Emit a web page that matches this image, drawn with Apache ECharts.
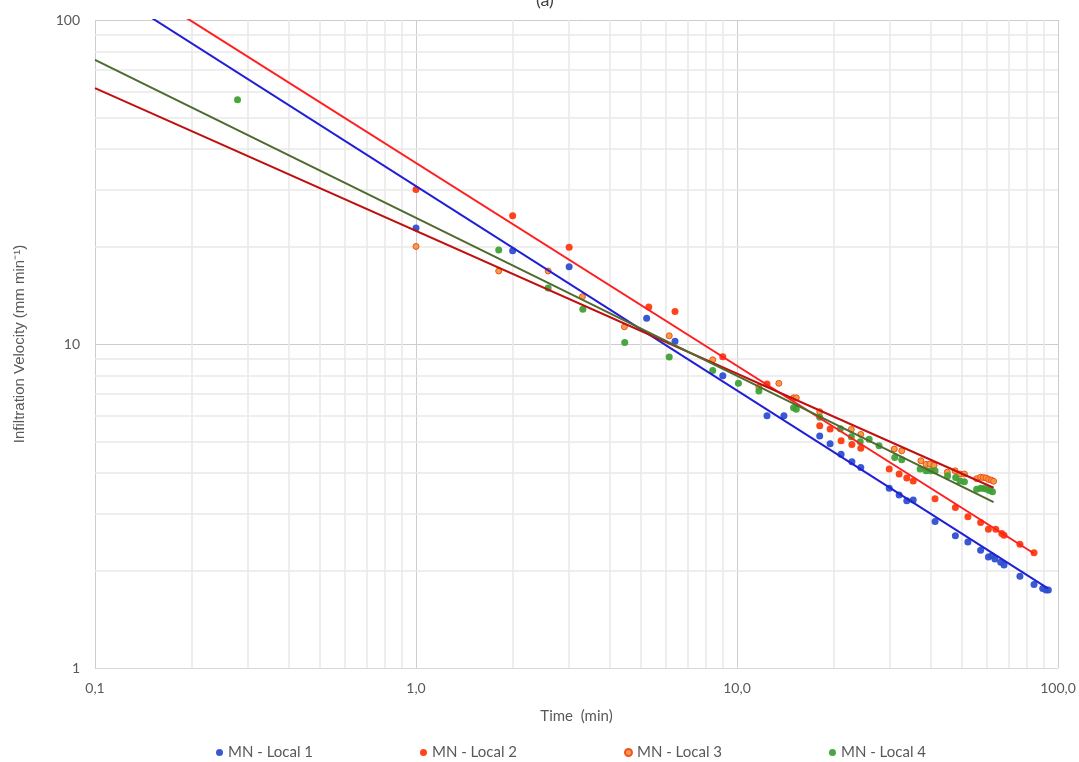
<!DOCTYPE html>
<html>
<head>
<meta charset="utf-8">
<script src="https://cdn.jsdelivr.net/npm/echarts@6/dist/echarts.min.js"></script>
<style>
  html, body { margin: 0; padding: 0; background: #fff; }
  #chart { width: 1079px; height: 762px; }
</style>
</head>
<body>
<div id="chart"></div>
<script>
// observed points [time (min), velocity (mm/min)]
const local1 = [
  [1.0, 22.8], [2.0, 19.4], [3.0, 17.3], [5.23, 12.0], [6.41, 10.2], [9.03, 7.98],
  [12.4, 6.01], [14.0, 6.01], [18.1, 5.2], [19.5, 4.92], [21.1, 4.57], [22.8, 4.33],
  [24.3, 4.16], [29.8, 3.59], [32.0, 3.42], [33.8, 3.28], [35.4, 3.30], [41.4, 2.83],
  [47.9, 2.56], [52.4, 2.45], [57.4, 2.31], [60.7, 2.20], [62.1, 2.22], [63.6, 2.17],
  [66.3, 2.12], [67.9, 2.08], [76.1, 1.92], [84.2, 1.81], [89.6, 1.76], [91.8, 1.74],
  [93.3, 1.74]
];
const local2 = [
  [1.0, 30.0], [2.0, 24.9], [3.0, 19.9], [5.31, 13.0], [6.41, 12.6], [9.03, 9.14],
  [12.4, 7.52], [18.1, 5.59], [19.5, 5.47], [21.1, 5.03], [22.8, 4.90], [24.3, 4.77],
  [29.8, 4.11], [32.0, 3.97], [33.8, 3.86], [35.4, 3.78], [41.4, 3.33], [47.9, 3.13],
  [52.4, 2.93], [57.4, 2.81], [60.7, 2.68], [64.0, 2.68], [66.8, 2.60], [67.9, 2.57],
  [76.1, 2.41], [84.2, 2.27]
];
const local3 = [
  [1.0, 20.0], [1.81, 16.8], [2.58, 16.8], [3.30, 14.0], [4.46, 11.3], [6.15, 10.6],
  [8.40, 8.94], [11.7, 7.35], [13.5, 7.56], [15.0, 6.82], [15.3, 6.82], [18.1, 6.18],
  [22.7, 5.45], [24.3, 5.26], [30.9, 4.74], [32.6, 4.68], [37.4, 4.36], [38.8, 4.25],
  [39.9, 4.26], [41.1, 4.22], [45.2, 4.02], [47.8, 4.06], [49.5, 3.97], [51.1, 3.97],
  [55.8, 3.84], [57.4, 3.88], [58.5, 3.87], [59.7, 3.86], [60.8, 3.82], [62.0, 3.80],
  [63.0, 3.77]
];
const local4 = [
  [0.278, 56.7], [1.81, 19.5], [2.58, 14.9], [3.31, 12.8], [4.47, 10.1], [6.15, 9.12],
  [8.40, 8.29], [10.1, 7.56], [11.7, 7.16], [15.0, 6.36], [15.3, 6.29], [18.1, 5.94],
  [21.0, 5.48], [22.7, 5.17], [24.2, 4.99], [25.8, 5.08], [27.7, 4.85], [31.0, 4.46],
  [32.6, 4.39], [37.2, 4.11], [38.8, 4.06], [40.1, 4.06], [41.4, 4.06], [45.3, 3.92],
  [48.0, 3.87], [49.5, 3.78], [51.1, 3.76], [55.8, 3.56], [57.4, 3.59], [58.8, 3.58],
  [60.1, 3.56], [61.2, 3.53], [62.5, 3.50]
];

// power-law trend lines, read as end points off the picture
const trend1 = [[0.1, 131.2], [93, 1.76]];
const trend2 = [[0.1, 153], [84, 2.26]];
const trend3 = [[0.1, 61.6], [63, 3.6]];
const trend4 = [[0.1, 75.3], [63, 3.25]];

const seriesNames = ['MN - Local 1', 'MN - Local 2', 'MN - Local 3', 'MN - Local 4'];

const textColor = '#595959';
const font = 'Lato, "Open Sans", sans-serif';

// minor grid lines at 2..9 of each decade
const minorLines = [];
[0.1, 1, 10].forEach(d => {
  for (let k = 2; k <= 9; k++) minorLines.push({ xAxis: +(d * k).toPrecision(3) });
});
[1, 10].forEach(d => {
  for (let k = 2; k <= 9; k++) minorLines.push({ yAxis: d * k });
});

const chart = echarts.init(document.getElementById('chart'));

function scatter(name, data, color, border) {
  return {
    name: name,
    type: 'scatter',
    data: data,
    symbol: 'circle',
    symbolSize: border ? 6 : 7,
    z: 4,
    itemStyle: { color: color, borderColor: border || color, borderWidth: border ? 1 : 0, opacity: 0.95 }
  };
}
function trend(data, color) {
  return {
    type: 'line',
    data: data,
    showSymbol: false,
    symbol: 'none',
    silent: true,
    z: 5,
    lineStyle: { color: color, width: 2 },
    clip: true
  };
}

chart.setOption({
  animation: false,
  title: {
    text: '(a)',
    left: 531,
    top: -14,
    textStyle: { fontFamily: font, fontSize: 18, fontWeight: 'normal', color: '#404040' }
  },
  grid: { left: 95, right: 21, top: 20, bottom: 94 },
  legend: {
    data: seriesNames,
    top: 740,
    left: 211,
    icon: 'circle',
    itemWidth: 7,
    itemHeight: 7,
    itemGap: 107,
    textStyle: { fontFamily: font, fontSize: 15, color: textColor }
  },
  xAxis: {
    type: 'log',
    logBase: 10,
    min: 0.1,
    max: 100,
    name: 'Time  (min)',
    nameLocation: 'middle',
    nameGap: 41,
    nameTextStyle: { fontFamily: font, fontSize: 15, color: textColor },
    axisLine: { show: true, lineStyle: { color: '#d9d9d9' } },
    axisTick: { show: false },
    axisLabel: {
      margin: 13,
      fontFamily: font,
      fontSize: 14,
      color: textColor,
      formatter: v => Number(v).toFixed(1).replace('.', ',')
    },
    splitLine: { show: true, lineStyle: { color: '#cdcdcd', width: 1 } }
  },
  yAxis: {
    type: 'log',
    logBase: 10,
    min: 1,
    max: 100,
    name: 'Infiltration Velocity (mm min\u207B\u00B9)',
    nameLocation: 'middle',
    nameGap: 68,
    nameTextStyle: { fontFamily: '"Liberation Sans", Arial, sans-serif', fontSize: 15, color: textColor },
    axisLine: { show: false },
    axisTick: { show: false },
    axisLabel: {
      margin: 15,
      fontFamily: font,
      fontSize: 14,
      color: textColor,
      formatter: v => String(Math.round(v))
    },
    splitLine: { show: true, lineStyle: { color: '#cdcdcd', width: 1 } }
  },
  series: [
    {
      type: 'line',
      data: [],
      silent: true,
      z: 1,
      markLine: {
        z: 1,
        silent: true,
        symbol: 'none',
        label: { show: false },
        lineStyle: { color: '#e9e9e9', width: 1.5, type: 'solid' },
        data: minorLines
      }
    },
    scatter(seriesNames[0], local1, '#2f4fd0'),
    scatter(seriesNames[1], local2, '#ff3a10'),
    scatter(seriesNames[2], local3, '#f39a3c', '#f24a1e'),
    scatter(seriesNames[3], local4, '#3fa136'),
    trend(trend1, '#1f1fd6'),
    trend(trend2, '#ff1f1f'),
    trend(trend3, '#c00f0f'),
    trend(trend4, '#4f6a2f')
  ]
});
</script>
</body>
</html>
